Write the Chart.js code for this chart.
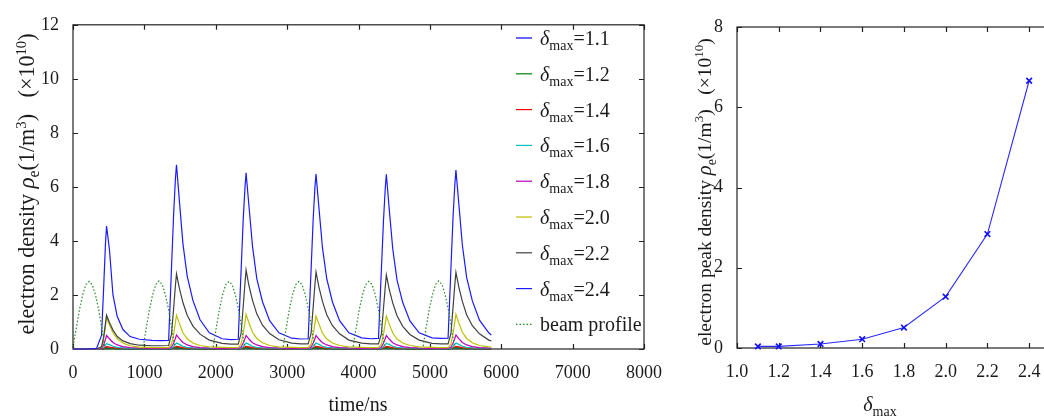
<!DOCTYPE html>
<html>
<head>
<meta charset="utf-8">
<title>electron density</title>
<script src="https://cdn.jsdelivr.net/npm/chart.js@4.4.1/dist/chart.umd.min.js"></script>
<style>
  body { margin: 0; background: #fff; }
  #lienzo { position: relative; width: 1044px; height: 418px; overflow: hidden; }
  canvas { position: absolute; top: 0; }
</style>
</head>
<body>
<div id="lienzo">
  <canvas id="graficoTiempo" width="690" height="418" style="left:0"></canvas>
  <canvas id="graficoPico" width="380" height="418" style="left:690px"></canvas>
</div>
<script>
// time axis (ns) shared by the electron density curves
const timeNs = [
  0, 200, 330, 400, 430, 455, 470, 510, 560, 620, 700, 800, 930, 1110, 1230,
  1340, 1380, 1410, 1435, 1450, 1490, 1540, 1600, 1680, 1780, 1910, 2090, 2210,
  2315, 2355, 2385, 2410, 2425, 2465, 2515, 2575, 2655, 2755, 2885, 3065, 3190,
  3295, 3335, 3365, 3390, 3405, 3445, 3495, 3555, 3635, 3735, 3865, 4045, 4170,
  4280, 4320, 4350, 4375, 4390, 4430, 4480, 4540, 4620, 4720, 4850, 5030, 5150,
  5255, 5295, 5325, 5350, 5365, 5405, 5455, 5515, 5595, 5695, 5825, 5860
];

// electron density (x1e10 /m^3), one array per delta_max
const dens11 = [
  0, 0, 0, 0, 0.01, 0.03, 0.04, 0.03, 0.02, 0.01, 0.01, 0, 0, 0, 0,
  0, 0.01, 0.02, 0.035, 0.045, 0.035, 0.02, 0.01, 0.01, 0, 0, 0, 0,
  0, 0.01, 0.02, 0.035, 0.045, 0.035, 0.02, 0.01, 0.01, 0, 0, 0, 0,
  0, 0.01, 0.02, 0.035, 0.045, 0.035, 0.02, 0.01, 0.01, 0, 0, 0, 0,
  0, 0.01, 0.02, 0.035, 0.045, 0.035, 0.02, 0.01, 0.01, 0, 0, 0, 0,
  0, 0.01, 0.02, 0.035, 0.045, 0.035, 0.02, 0.01, 0.01, 0, 0, 0
];
const dens12 = [
  0, 0, 0, 0, 0.01, 0.03, 0.045, 0.035, 0.02, 0.01, 0.01, 0, 0, 0, 0,
  0, 0.01, 0.025, 0.04, 0.05, 0.04, 0.025, 0.015, 0.01, 0.005, 0, 0, 0,
  0, 0.01, 0.025, 0.04, 0.05, 0.04, 0.025, 0.015, 0.01, 0.005, 0, 0, 0,
  0, 0.01, 0.025, 0.04, 0.05, 0.04, 0.025, 0.015, 0.01, 0.005, 0, 0, 0,
  0, 0.01, 0.025, 0.04, 0.05, 0.04, 0.025, 0.015, 0.01, 0.005, 0, 0, 0,
  0, 0.01, 0.025, 0.04, 0.05, 0.04, 0.025, 0.015, 0.01, 0.005, 0, 0
];
const dens14 = [
  0, 0, 0, 0, 0.03, 0.07, 0.09, 0.07, 0.05, 0.03, 0.02, 0.01, 0.01, 0.01, 0.01,
  0.01, 0.02, 0.05, 0.08, 0.1, 0.08, 0.05, 0.03, 0.02, 0.01, 0.01, 0.01, 0.01,
  0.01, 0.02, 0.05, 0.08, 0.1, 0.08, 0.05, 0.03, 0.02, 0.01, 0.01, 0.01, 0.01,
  0.01, 0.02, 0.05, 0.08, 0.1, 0.08, 0.05, 0.03, 0.02, 0.01, 0.01, 0.01, 0.01,
  0.01, 0.02, 0.05, 0.08, 0.1, 0.08, 0.05, 0.03, 0.02, 0.01, 0.01, 0.01, 0.01,
  0.01, 0.02, 0.05, 0.08, 0.1, 0.08, 0.05, 0.03, 0.02, 0.01, 0.01, 0.01
];
const dens16 = [
  0, 0, 0, 0.01, 0.07, 0.15, 0.2, 0.16, 0.1, 0.06, 0.04, 0.02, 0.01, 0.01, 0.01,
  0.01, 0.03, 0.09, 0.17, 0.22, 0.17, 0.1, 0.06, 0.04, 0.03, 0.02, 0.01, 0.01,
  0.01, 0.03, 0.09, 0.17, 0.22, 0.17, 0.1, 0.06, 0.04, 0.03, 0.02, 0.01, 0.01,
  0.01, 0.03, 0.09, 0.17, 0.22, 0.17, 0.1, 0.06, 0.04, 0.03, 0.02, 0.01, 0.01,
  0.01, 0.03, 0.09, 0.17, 0.21, 0.17, 0.1, 0.06, 0.04, 0.03, 0.02, 0.01, 0.01,
  0.01, 0.03, 0.09, 0.17, 0.22, 0.17, 0.1, 0.06, 0.04, 0.03, 0.02, 0.02
];
const dens18 = [
  0, 0, 0, 0.03, 0.16, 0.36, 0.5, 0.38, 0.24, 0.15, 0.09, 0.05, 0.03, 0.02, 0.02,
  0.02, 0.07, 0.22, 0.4, 0.52, 0.38, 0.24, 0.15, 0.09, 0.05, 0.03, 0.02, 0.02,
  0.02, 0.07, 0.22, 0.39, 0.5, 0.37, 0.23, 0.15, 0.09, 0.05, 0.03, 0.02, 0.02,
  0.02, 0.07, 0.22, 0.39, 0.5, 0.37, 0.23, 0.15, 0.09, 0.05, 0.03, 0.02, 0.02,
  0.02, 0.07, 0.22, 0.39, 0.5, 0.37, 0.23, 0.15, 0.09, 0.05, 0.03, 0.02, 0.02,
  0.02, 0.07, 0.22, 0.4, 0.52, 0.38, 0.24, 0.15, 0.09, 0.05, 0.03, 0.03
];
const dens20 = [
  0, 0, 0, 0.06, 0.38, 0.85, 1.18, 0.9, 0.6, 0.38, 0.22, 0.12, 0.07, 0.05, 0.05,
  0.05, 0.18, 0.55, 0.98, 1.25, 0.95, 0.6, 0.38, 0.22, 0.13, 0.08, 0.06, 0.05,
  0.05, 0.19, 0.57, 1.0, 1.28, 0.97, 0.62, 0.39, 0.23, 0.13, 0.08, 0.06, 0.05,
  0.05, 0.18, 0.55, 0.96, 1.22, 0.93, 0.59, 0.37, 0.22, 0.13, 0.08, 0.06, 0.05,
  0.05, 0.18, 0.55, 0.96, 1.22, 0.93, 0.59, 0.37, 0.22, 0.13, 0.08, 0.06, 0.05,
  0.05, 0.19, 0.57, 1.0, 1.28, 0.97, 0.62, 0.39, 0.23, 0.13, 0.08, 0.07
];
const dens22 = [
  0, 0, 0, 0.08, 0.45, 0.95, 1.25, 0.98, 0.7, 0.46, 0.3, 0.2, 0.14, 0.12, 0.12,
  0.13, 0.55, 1.5, 2.35, 2.78, 2.25, 1.72, 1.25, 0.85, 0.55, 0.33, 0.21, 0.18,
  0.18, 0.58, 1.58, 2.45, 2.92, 2.35, 1.8, 1.3, 0.88, 0.57, 0.34, 0.22, 0.19,
  0.19, 0.57, 1.55, 2.4, 2.85, 2.3, 1.76, 1.27, 0.86, 0.56, 0.33, 0.22, 0.19,
  0.19, 0.55, 1.5, 2.3, 2.74, 2.22, 1.7, 1.23, 0.84, 0.54, 0.33, 0.21, 0.19,
  0.19, 0.57, 1.55, 2.4, 2.84, 2.3, 1.76, 1.27, 0.86, 0.56, 0.33, 0.3
];
const dens24 = [
  0, 0, 0.02, 0.5, 2.3, 3.9, 4.55, 3.7, 2.0, 1.2, 0.72, 0.46, 0.36, 0.32, 0.31,
  0.32, 3.0, 5.0, 6.3, 6.82, 5.5, 3.9, 2.7, 1.8, 1.08, 0.6, 0.38, 0.35,
  0.36, 2.9, 4.8, 6.0, 6.52, 5.3, 3.8, 2.6, 1.75, 1.05, 0.6, 0.4, 0.37,
  0.38, 2.9, 4.8, 6.0, 6.48, 5.25, 3.75, 2.6, 1.74, 1.05, 0.6, 0.41, 0.38,
  0.39, 2.9, 4.75, 5.95, 6.47, 5.2, 3.7, 2.55, 1.72, 1.04, 0.6, 0.41, 0.39,
  0.4, 3.0, 4.9, 6.1, 6.62, 5.4, 3.85, 2.65, 1.78, 1.07, 0.6, 0.52
];

// beam profile (dotted green)
const beamTime = [
  0, 45, 90, 135, 180, 225, 270, 315, 360, 405, 450,
  980, 1025, 1070, 1115, 1160, 1205, 1250, 1295, 1340, 1385, 1430,
  1960, 2005, 2050, 2095, 2140, 2185, 2230, 2275, 2320, 2365, 2410,
  2940, 2985, 3030, 3075, 3120, 3165, 3210, 3255, 3300, 3345, 3390,
  3920, 3965, 4010, 4055, 4100, 4145, 4190, 4235, 4280, 4325, 4370,
  4900, 4945, 4990, 5035, 5080, 5125, 5170, 5215, 5260, 5305, 5350,
  5860
];
const beamProfile = [
  0.1, 0.75, 1.45, 2.0, 2.38, 2.5, 2.38, 2.0, 1.45, 0.75, 0,
  0, 0.75, 1.45, 2.0, 2.39, 2.52, 2.39, 2.0, 1.45, 0.75, 0,
  0, 0.75, 1.45, 2.0, 2.38, 2.5, 2.38, 2.0, 1.45, 0.75, 0,
  0, 0.75, 1.45, 2.0, 2.38, 2.5, 2.38, 2.0, 1.45, 0.75, 0,
  0, 0.75, 1.45, 2.0, 2.38, 2.5, 2.38, 2.0, 1.45, 0.75, 0,
  0, 0.75, 1.45, 2.0, 2.39, 2.52, 2.39, 2.0, 1.45, 0.75, 0,
  0
];

const deltaLabels = ['1.1', '1.2', '1.4', '1.6', '1.8', '2.0', '2.2', '2.4'];
const seriesColors = ['#0000ff', '#008000', '#ff0000', '#00bfbf', '#bf00bf', '#bfbf00', '#404040', '#1a1aff'];
const beamColor = '#1f8a1f';

// right plot: peak density vs delta_max
const deltaMax = [1.1, 1.2, 1.4, 1.6, 1.8, 2.0, 2.2, 2.4];
const peakDensity = [0.04, 0.04, 0.1, 0.22, 0.51, 1.28, 2.84, 6.66];

const timeTicks = [0, 1000, 2000, 3000, 4000, 5000, 6000, 7000, 8000];
const densTicks = [0, 2, 4, 6, 8, 10, 12];
const deltaTicks = [1.0, 1.2, 1.4, 1.6, 1.8, 2.0, 2.2, 2.4];
const peakTicks = [0, 2, 4, 6, 8];

const FAMILY = '"Liberation Serif", "Times New Roman", serif';
const INK = '#1a1a1a';
const tickFont = { family: FAMILY, size: 18 };

// text with sub/superscripts drawn piece by piece
function fontOf(p) {
    return `${p.i ? 'italic ' : ''}${p.s || 19}px ${FAMILY}`;
}
function drawRich(ctx, parts, x, y, align) {
    let w = 0;
    parts.forEach((p) => { ctx.font = fontOf(p); w += ctx.measureText(p.t).width; });
    let cx = align === 'center' ? x - w / 2 : x;
    ctx.fillStyle = INK;
    ctx.textAlign = 'left';
    ctx.textBaseline = 'alphabetic';
    parts.forEach((p) => {
        ctx.font = fontOf(p);
        ctx.fillText(p.t, cx, y + (p.dy || 0));
        cx += ctx.measureText(p.t).width;
    });
}
const deltaParts = (rest) => [{ t: 'δ', i: true, s: 20 }, { t: 'max', s: 14, dy: 5 }, { t: rest, s: 20 }];

// y titles: "... ρe(1/m3)  (x10^10)", k scales the font
function densTitle(prefix, k) {
    const f = (n) => Math.round(n * k * 10) / 10;
    return [
        { t: prefix, s: f(21) }, { t: 'ρ', i: true, s: f(22) }, { t: 'e', s: f(15), dy: 5 }, { t: '(1/m', s: f(21) },
        { t: '3', s: f(14), dy: -8 }, { t: ')   (×10', s: f(21) }, { t: '10', s: f(14), dy: -8 }, { t: ')', s: f(21) }
    ];
}

// box and inward tick marks, like the original figure
const marcoPlugin = {
    id: 'marco',
    beforeDatasetsDraw(chart) {
        const { ctx, chartArea: a, scales } = chart;
        const len = 5;
        ctx.save();
        ctx.strokeStyle = '#222';
        ctx.lineWidth = 1.2;
        ctx.strokeRect(a.left, a.top, a.right - a.left, a.bottom - a.top);
        ctx.beginPath();
        scales.x.ticks.forEach((t) => {
            const px = Math.round(scales.x.getPixelForValue(t.value)) + 0.5;
            ctx.moveTo(px, a.bottom); ctx.lineTo(px, a.bottom - len);
            ctx.moveTo(px, a.top); ctx.lineTo(px, a.top + len);
        });
        scales.y.ticks.forEach((t) => {
            const py = Math.round(scales.y.getPixelForValue(t.value)) + 0.5;
            ctx.moveTo(a.left, py); ctx.lineTo(a.left + len, py);
            ctx.moveTo(a.right, py); ctx.lineTo(a.right - len, py);
        });
        ctx.stroke();
        ctx.restore();
    }
};

function titulosEjes(xParts, xPos, yParts, yPos) {
    return {
        id: 'titulos',
        afterDraw(chart) {
            const ctx = chart.ctx;
            ctx.save();
            drawRich(ctx, xParts, xPos[0], xPos[1], 'center');
            ctx.translate(yPos[0], yPos[1]);
            ctx.rotate(-Math.PI / 2);
            drawRich(ctx, yParts, 0, 0, 'center');
            ctx.restore();
        }
    };
}

// legend inside the left plot
const leyendaPlugin = {
    id: 'leyenda',
    afterDatasetsDraw(chart) {
        const ctx = chart.ctx;
        chart.data.datasets.forEach((ds, i) => {
            const y = 38 + i * 35.8;
            ctx.save();
            ctx.strokeStyle = ds.borderColor;
            ctx.lineWidth = 1.2;
            ctx.setLineDash(ds.borderDash || []);
            ctx.beginPath();
            ctx.moveTo(516, y);
            ctx.lineTo(532, y);
            ctx.stroke();
            ctx.restore();
            const parts = ds.label.startsWith('δmax') ? deltaParts(ds.label.slice(4)) : [{ t: ds.label, s: 20 }];
            drawRich(ctx, parts, 540, y + 7, 'left');
        });
    }
};

function fijarTicks(values) {
    return (scale) => { scale.ticks = values.map((v) => ({ value: v })); };
}

document.addEventListener('DOMContentLoaded', () => {
    Chart.defaults.font.family = FAMILY;
    Chart.defaults.font.size = 18;
    Chart.defaults.color = INK;

    const densSeries = [dens11, dens12, dens14, dens16, dens18, dens20, dens22, dens24];
    const datasets = densSeries.map((serie, i) => ({
        label: 'δmax=' + deltaLabels[i],
        data: timeNs.map((t, k) => ({ x: t, y: serie[k] })),
        borderColor: seriesColors[i],
        borderWidth: 1.2,
        pointRadius: 0,
        tension: 0,
        clip: 3,
        order: -i
    }));
    datasets.push({
        label: 'beam profile',
        data: beamTime.map((t, k) => ({ x: t, y: beamProfile[k] })),
        borderColor: beamColor,
        borderWidth: 1.2,
        borderDash: [1.5, 2],
        pointRadius: 0,
        tension: 0,
        clip: 3,
        order: -8
    });

    const ejeBase = {
        type: 'linear',
        grid: { display: false, drawTicks: false },
        border: { display: false }
    };

    new Chart(document.getElementById('graficoTiempo'), {
        type: 'line',
        data: { datasets },
        options: {
            responsive: false,
            animation: false,
            devicePixelRatio: 1,
            layout: { padding: { top: 16, right: 46, left: 0, bottom: 0 } },
            plugins: { legend: { display: false }, tooltip: { enabled: false } },
            scales: {
                x: {
                    ...ejeBase, min: 0, max: 8000,
                    afterBuildTicks: fijarTicks(timeTicks),
                    afterFit: (s) => { s.height = 69; },
                    ticks: { padding: 13, maxRotation: 0, font: tickFont, color: INK, callback: (v) => String(v) }
                },
                y: {
                    ...ejeBase, min: 0, max: 12,
                    afterBuildTicks: fijarTicks(densTicks),
                    afterFit: (s) => { s.width = 73; },
                    ticks: { padding: 14, font: tickFont, color: INK, callback: (v) => String(v) }
                }
            }
        },
        plugins: [
            marcoPlugin,
            leyendaPlugin,
            titulosEjes([{ t: 'time/ns', s: 20 }], [358, 411], densTitle('electron density ', 1.05), [34, 184])
        ]
    });

    new Chart(document.getElementById('graficoPico'), {
        type: 'line',
        data: {
            datasets: [{
                label: 'peak',
                data: deltaMax.map((d, k) => ({ x: d, y: peakDensity[k] })),
                borderColor: '#2a2aff',
                borderWidth: 1.1,
                pointStyle: 'crossRot',
                pointRadius: 4,
                pointBorderWidth: 1.6,
                pointBorderColor: '#1010ff',
                tension: 0,
                clip: 6
            }]
        },
        options: {
            responsive: false,
            animation: false,
            devicePixelRatio: 1,
            layout: { padding: { top: 27, right: 20, left: 0, bottom: 0 } },
            plugins: { legend: { display: false }, tooltip: { enabled: false } },
            scales: {
                x: {
                    ...ejeBase, min: 1.0, max: 2.5,
                    afterBuildTicks: fijarTicks(deltaTicks),
                    afterFit: (s) => { s.height = 70; },
                    ticks: { padding: 13, maxRotation: 0, font: tickFont, color: INK, callback: (v) => Number(v).toFixed(1) }
                },
                y: {
                    ...ejeBase, min: 0, max: 8,
                    afterBuildTicks: fijarTicks(peakTicks),
                    afterFit: (s) => { s.width = 47; },
                    ticks: { padding: 14, font: tickFont, color: INK, callback: (v) => String(v) }
                }
            }
        },
        plugins: [
            marcoPlugin,
            titulosEjes(deltaParts(''), [190, 411], densTitle('electron peak density ', 0.93), [21, 192])
        ]
    });
});
</script>
</body>
</html>
